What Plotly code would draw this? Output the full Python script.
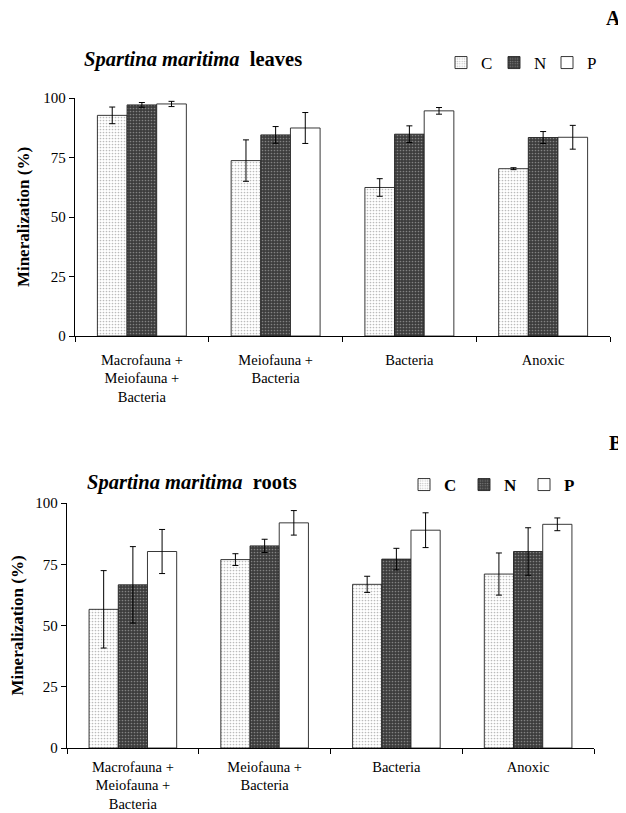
import plotly.graph_objects as go

# ---------------- data ----------------
categories = ["Macrofauna +<br>Meiofauna +<br>Bacteria", "Meiofauna +<br>Bacteria", "Bacteria", "Anoxic"]
series = ["C", "N", "P"]

leaves_C = [92.7, 73.7, 62.4, 70.3]
leaves_N = [97.1, 84.5, 84.8, 83.4]
leaves_P = [97.5, 87.4, 94.6, 83.5]
leaves_C_err = [3.5, 8.7, 3.7, 0.4]
leaves_N_err = [1.0, 3.5, 3.5, 2.5]
leaves_P_err = [1.1, 6.5, 1.4, 5.0]

roots_C = [56.6, 76.9, 66.8, 71.0]
roots_N = [66.6, 82.5, 77.1, 80.2]
roots_P = [80.2, 91.9, 88.9, 91.3]
roots_C_err = [15.8, 2.4, 3.3, 8.6]
roots_N_err = [15.6, 2.7, 4.4, 9.7]
roots_P_err = [9.0, 5.0, 7.1, 2.6]

y_ticks = [0, 25, 50, 75, 100]

# ---------------- styles ----------------
OFF = 8                      # page body margin
W, H = 626 - OFF, 813 - OFF  # figure size so that it fits in the window
FONT = "Liberation Serif"
patterns = {
    "C": dict(shape=".", bgcolor="white", fgcolor="#777777", size=3, solidity=0.25, fillmode="overlay"),
    "N": dict(shape=".", bgcolor="#3c3c3c", fgcolor="#c8c8c8", size=3, solidity=0.25, fillmode="overlay"),
    "P": dict(shape="", bgcolor="white", fgcolor="white"),
}
colors = {"C": "white", "N": "#3c3c3c", "P": "white"}

fig = go.Figure()

panels = [
    ("x", "y", "legend", [leaves_C, leaves_N, leaves_P], [leaves_C_err, leaves_N_err, leaves_P_err]),
    ("x2", "y2", "legend2", [roots_C, roots_N, roots_P], [roots_C_err, roots_N_err, roots_P_err]),
]
for xa, ya, lg, vals, errs in panels:
    for s, v, e in zip(series, vals, errs):
        fig.add_trace(go.Bar(
            x=categories, y=v, name=s, xaxis=xa, yaxis=ya, legend=lg,
            marker=dict(color=colors[s], pattern=patterns[s], line=dict(color="#222", width=0.9)),
            error_y=dict(type="data", array=e, visible=True, color="black", thickness=1, width=3),
        ))

def px_x(p):
    return (p - OFF) / W

def px_y(p):
    return 1 - (p - OFF) / H

axis_common = dict(showline=True, linecolor="black", linewidth=1.3, ticks="outside",
                   tickcolor="black", ticklen=5, tickwidth=1.3, showgrid=False, zeroline=False,
                   automargin=False)
y_font = dict(family=FONT, size=15, color="black")
x_font = dict(family=FONT, size=14.5, color="black")
x_common = dict(type="category", range=[-0.5, 3.5], tickson="boundaries", tickfont=x_font)
y_title = dict(text="<b>Mineralization (%)</b>", font=dict(family=FONT, size=17), standoff=9)

fig.update_layout(
    width=W, height=H, margin=dict(l=0, r=0, t=0, b=0),
    paper_bgcolor="white", plot_bgcolor="white",
    barmode="group", bargap=0.335, bargroupgap=0,
    font=dict(family=FONT, color="black"),
    xaxis=dict(domain=[px_x(75), px_x(610)], anchor="y", ticklabelstandoff=10, **x_common, **axis_common),
    yaxis=dict(domain=[px_y(336), px_y(98)], anchor="x", range=[0, 100], tickvals=y_ticks,
               tickfont=y_font, title=y_title, **axis_common),
    xaxis2=dict(domain=[px_x(67), px_x(594)], anchor="y2", ticklabelstandoff=5, **x_common, **axis_common),
    yaxis2=dict(domain=[px_y(748), px_y(503)], anchor="x2", range=[0, 100], tickvals=y_ticks,
                tickfont=y_font, title=y_title, **axis_common),
    legend=dict(orientation="h", x=px_x(441), y=px_y(63), xanchor="left", yanchor="middle",
                font=dict(family=FONT, size=17), bgcolor="rgba(0,0,0,0)",
                entrywidth=8, entrywidthmode="pixels", itemwidth=30),
    legend2=dict(orientation="h", x=px_x(404), y=px_y(485), xanchor="left", yanchor="middle",
                 font=dict(family=FONT, size=17, weight="bold"), bgcolor="rgba(0,0,0,0)",
                 entrywidth=15, entrywidthmode="pixels", itemwidth=30),
    showlegend=True,
)

fig.add_annotation(x=px_x(82), y=px_y(60), xref="paper", yref="paper", xanchor="left", yanchor="middle",
                   text="<b><i>Spartina maritima</i>  leaves</b>", showarrow=False,
                   font=dict(family=FONT, size=20.5, color="black"))
fig.add_annotation(x=px_x(85), y=px_y(482), xref="paper", yref="paper", xanchor="left", yanchor="middle",
                   text="<b><i>Spartina maritima</i>  roots</b>", showarrow=False,
                   font=dict(family=FONT, size=20.5, color="black"))
fig.add_annotation(x=px_x(613), y=px_y(18), xref="paper", yref="paper", xanchor="center", yanchor="middle",
                   text="<b>A</b>", showarrow=False, font=dict(family=FONT, size=20, color="black"))
fig.add_annotation(x=px_x(615), y=px_y(443), xref="paper", yref="paper", xanchor="center", yanchor="middle",
                   text="<b>B</b>", showarrow=False, font=dict(family=FONT, size=20, color="black"))

fig.write_html("out.html")
